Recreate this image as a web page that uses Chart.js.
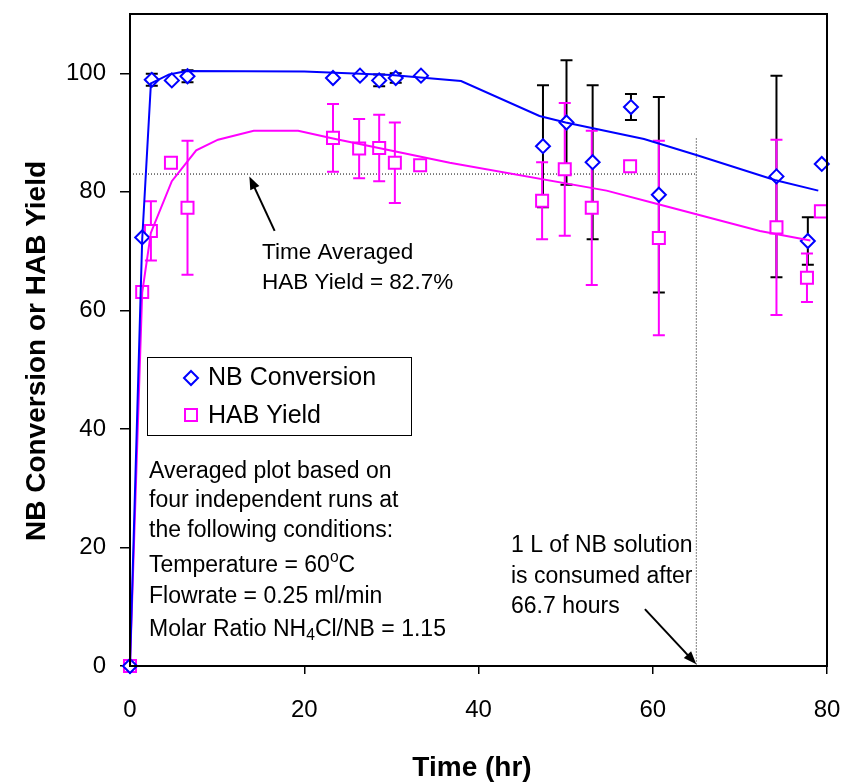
<!DOCTYPE html>
<html>
<head>
<meta charset="utf-8">
<script src="https://cdn.jsdelivr.net/npm/chart.js@4.4.1/dist/chart.umd.min.js"></script>
<style>
html,body{margin:0;padding:0;background:#fff;}
canvas{display:block;}
</style>
</head>
<body>
<canvas id="c" width="843" height="784"></canvas>
<script>
// ---- Data ----
const nbTime   = [0, 1.4, 2.5, 4.8, 6.6, 23.3, 26.4, 28.6, 30.5, 33.4, 47.4, 50.1, 53.1, 57.5, 60.7, 74.2, 77.8, 79.4];
const nbConv   = [0, 72.3, 98.9, 98.8, 99.5, 99.2, 99.6, 98.8, 99.2, 99.6, 87.7, 91.7, 85.0, 94.3, 79.5, 82.6, 71.7, 84.7];
const nbErr    = [0, 0, 1.0, 0, 1.0, 0, 0, 1.0, 0.8, 0, 10.3, 10.5, 13.0, 2.2, 16.5, 17.0, 4.0, 0];

const habTime  = [0, 1.4, 2.4, 4.7, 6.6, 23.3, 26.3, 28.6, 30.4, 33.3, 47.3, 49.9, 53.0, 57.4, 60.7, 74.2, 77.7, 79.3];
const habYield = [0, 63.1, 73.4, 84.9, 77.3, 89.1, 87.3, 87.4, 84.9, 84.5, 78.5, 83.8, 77.3, 84.3, 72.2, 74.0, 65.5, 76.7];
const habErr   = [0, 0, 5.0, 0, 11.3, 5.7, 5.0, 5.6, 6.8, 0, 6.5, 11.2, 13.0, 0, 16.4, 14.8, 4.1, 0];

const nbFitTime  = [0, 1.4, 2.4, 4.5, 6.5, 20, 30, 38, 47, 50, 59, 65, 74, 79];
const nbFitVal   = [0, 72, 98.3, 99.8, 100.4, 100.3, 99.7, 98.7, 92.8, 91.7, 88.9, 86.2, 82.0, 80.2];
const habFitTime = [0, 1.4, 2.4, 4.8, 7.6, 10.1, 14.2, 19.3, 23.3, 36.7, 54.7, 60.1, 72.3, 78.1];
const habFitVal  = [0, 63, 73.1, 81.8, 87.0, 88.8, 90.3, 90.3, 89.0, 84.9, 80.2, 78.1, 73.4, 71.8];

const avgYield = 83.0;      // dotted horizontal line
const avgEndTime = 65.0;
const consumedTime = 65.0;  // dotted vertical line
const consumedTop = 89.0;

const xTicks = [0, 20, 40, 60, 80];
const yTicks = [0, 20, 40, 60, 80, 100];

const seriesNames = ['NB Conversion', 'HAB Yield'];
const noteLines = ['Averaged plot based on', 'four independent runs at', 'the following conditions:'];

// ---- Drawing ----
const FONT = '"Liberation Sans", Arial, Helvetica, sans-serif';
const BLUE = '#0000FF', MAG = '#FF00FF';
const pts = (xs, ys) => xs.map((x, i) => ({x, y: ys[i]}));

function drawErr(ctx, xs, ys, es, color, sx, sy) {
  ctx.save();
  ctx.strokeStyle = color; ctx.lineWidth = 2;
  for (let i = 0; i < xs.length; i++) {
    if (!es[i]) continue;
    const px = sx.getPixelForValue(xs[i]);
    const top = sy.getPixelForValue(ys[i] + es[i]);
    const bot = sy.getPixelForValue(ys[i] - es[i]);
    ctx.beginPath();
    ctx.moveTo(px, top); ctx.lineTo(px, bot);
    ctx.moveTo(px - 6, top); ctx.lineTo(px + 6, top);
    ctx.moveTo(px - 6, bot); ctx.lineTo(px + 6, bot);
    ctx.stroke();
  }
  ctx.restore();
}

function arrow(ctx, x1, y1, x2, y2) {
  const a = Math.atan2(y2 - y1, x2 - x1), L = 13, W = 5;
  ctx.save();
  ctx.strokeStyle = '#000'; ctx.fillStyle = '#000'; ctx.lineWidth = 2;
  ctx.beginPath();
  ctx.moveTo(x1, y1);
  ctx.lineTo(x2 - Math.cos(a) * L * 0.8, y2 - Math.sin(a) * L * 0.8);
  ctx.stroke();
  ctx.beginPath();
  ctx.moveTo(x2, y2);
  ctx.lineTo(x2 - Math.cos(a) * L + Math.sin(a) * W, y2 - Math.sin(a) * L - Math.cos(a) * W);
  ctx.lineTo(x2 - Math.cos(a) * L - Math.sin(a) * W, y2 - Math.sin(a) * L + Math.cos(a) * W);
  ctx.closePath(); ctx.fill();
  ctx.restore();
}

function runs(ctx, x, y, parts, size) {
  let cx = x;
  for (const p of parts) {
    if (p.sup || p.sub) {
      ctx.font = (size * 0.68) + 'px ' + FONT;
      ctx.fillText(p.t, cx, y + (p.sup ? -size * 0.38 : size * 0.25));
    } else {
      ctx.font = size + 'px ' + FONT;
      ctx.fillText(p.t, cx, y);
    }
    cx += ctx.measureText(p.t).width;
  }
}

const decor = {
  id: 'decor',
  beforeDatasetsDraw(chart) {
    const {ctx, chartArea: a, scales: {x: sx, y: sy}} = chart;
    ctx.save();
    // dotted guide lines
    ctx.strokeStyle = '#000'; ctx.lineWidth = 1; ctx.setLineDash([1, 2]);
    ctx.beginPath();
    ctx.moveTo(sx.getPixelForValue(0), sy.getPixelForValue(avgYield));
    ctx.lineTo(sx.getPixelForValue(avgEndTime), sy.getPixelForValue(avgYield));
    ctx.moveTo(sx.getPixelForValue(consumedTime), sy.getPixelForValue(consumedTop));
    ctx.lineTo(sx.getPixelForValue(consumedTime), sy.getPixelForValue(0));
    ctx.stroke();
    ctx.restore();
    drawErr(ctx, nbTime, nbConv, nbErr, '#000', sx, sy);
    drawErr(ctx, habTime, habYield, habErr, MAG, sx, sy);
  },
  afterDraw(chart) {
    const {ctx, chartArea: a, scales: {x: sx, y: sy}} = chart;
    ctx.save();
    // frame
    ctx.strokeStyle = '#000'; ctx.lineWidth = 2;
    ctx.strokeRect(a.left, a.top, a.right - a.left, a.bottom - a.top);
    // arrows (data coordinates)
    arrow(ctx, sx.getPixelForValue(16.6), sy.getPixelForValue(73.4), sx.getPixelForValue(13.7), sy.getPixelForValue(82.6));
    arrow(ctx, sx.getPixelForValue(59.1), sy.getPixelForValue(9.6), sx.getPixelForValue(65.0), sy.getPixelForValue(0.3));
    // texts
    ctx.fillStyle = '#000'; ctx.textBaseline = 'middle'; ctx.textAlign = 'left';
    ctx.font = '22.5px ' + FONT;
    ctx.fillText('Time Averaged', 262, 253);
    ctx.fillText('HAB Yield = 82.7%', 262, 283);
    ctx.font = '23px ' + FONT;
    ctx.fillText('1 L of NB solution', 511, 546);
    ctx.fillText('is consumed after', 511, 577);
    ctx.fillText('66.7 hours', 511, 607);
    const ny = [472, 501, 531];
    noteLines.forEach((t, i) => ctx.fillText(t, 149, ny[i]));
    runs(ctx, 149, 566, [{t: 'Temperature = 60'}, {t: 'o', sup: true}, {t: 'C'}], 23);
    runs(ctx, 149, 597, [{t: 'Flowrate = 0.25 ml/min'}], 23);
    runs(ctx, 149, 630, [{t: 'Molar Ratio NH'}, {t: '4', sub: true}, {t: 'Cl/NB = 1.15'}], 23);
    // legend
    ctx.lineWidth = 1; ctx.strokeStyle = '#000';
    ctx.strokeRect(147.5, 357.5, 264, 78);
    ctx.lineWidth = 2;
    ctx.strokeStyle = BLUE; ctx.fillStyle = '#fff';
    ctx.beginPath();
    ctx.moveTo(184, 378); ctx.lineTo(191, 371); ctx.lineTo(198, 378); ctx.lineTo(191, 385); ctx.closePath();
    ctx.fill(); ctx.stroke();
    ctx.strokeStyle = MAG;
    ctx.strokeRect(185, 409, 12, 12);
    ctx.fillStyle = '#000';
    ctx.font = '25px ' + FONT;
    ctx.fillText(seriesNames[0], 208, 378);
    ctx.fillText(seriesNames[1], 208, 416);
    // axis titles
    ctx.font = 'bold 28px ' + FONT;
    ctx.textAlign = 'center';
    ctx.fillText('Time (hr)', 472, 768);
    ctx.translate(37, 351);
    ctx.rotate(-Math.PI / 2);
    ctx.fillText('NB Conversion or HAB Yield', 0, 0);
    ctx.restore();
  }
};

new Chart(document.getElementById('c'), {
  type: 'scatter',
  data: {
    datasets: [
      {label: seriesNames[0], data: pts(nbTime, nbConv), pointStyle: 'rectRot', pointRadius: 7,
       borderColor: BLUE, backgroundColor: '#fff', pointBorderWidth: 2, showLine: false, order: 1, clip: false},
      {label: seriesNames[1], data: pts(habTime, habYield), pointStyle: 'rect', pointRadius: 8.5,
       borderColor: MAG, backgroundColor: '#fff', pointBorderWidth: 2, showLine: false, order: 1, clip: false},
      {label: 'NB fit', data: pts(nbFitTime, nbFitVal), showLine: true, pointRadius: 0,
       borderColor: BLUE, borderWidth: 2, tension: 0, order: 0, clip: false},
      {label: 'HAB fit', data: pts(habFitTime, habFitVal), showLine: true, pointRadius: 0,
       borderColor: MAG, borderWidth: 2, tension: 0, order: 0, clip: false}
    ]
  },
  options: {
    responsive: false, animation: false,
    layout: {padding: {top: 14, right: 16, left: 0, bottom: 0}},
    plugins: {legend: {display: false}, tooltip: {enabled: false}},
    scales: {
      x: {
        type: 'linear', min: 0, max: 80,
        afterBuildTicks(s) { s.ticks = xTicks.map(v => ({value: v})); },
        ticks: {color: '#000', font: {size: 24, family: FONT}, padding: 22, maxRotation: 0},
        grid: {drawOnChartArea: false, tickLength: 8, color: '#000', lineWidth: 1.5},
        border: {color: '#000', width: 2},
        afterFit(s) { s.height = 118; s.paddingLeft = 0; s.paddingRight = 0; }
      },
      y: {
        type: 'linear', min: 0, max: 110,
        afterBuildTicks(s) { s.ticks = yTicks.map(v => ({value: v})); },
        ticks: {color: '#000', font: {size: 24, family: FONT}, padding: 14},
        grid: {drawOnChartArea: false, tickLength: 10, color: '#000', lineWidth: 1.5},
        border: {color: '#000', width: 2},
        afterFit(s) { s.width = 130; s.paddingTop = 0; s.paddingBottom = 0; }
      }
    }
  },
  plugins: [decor]
});
</script>
</body>
</html>
